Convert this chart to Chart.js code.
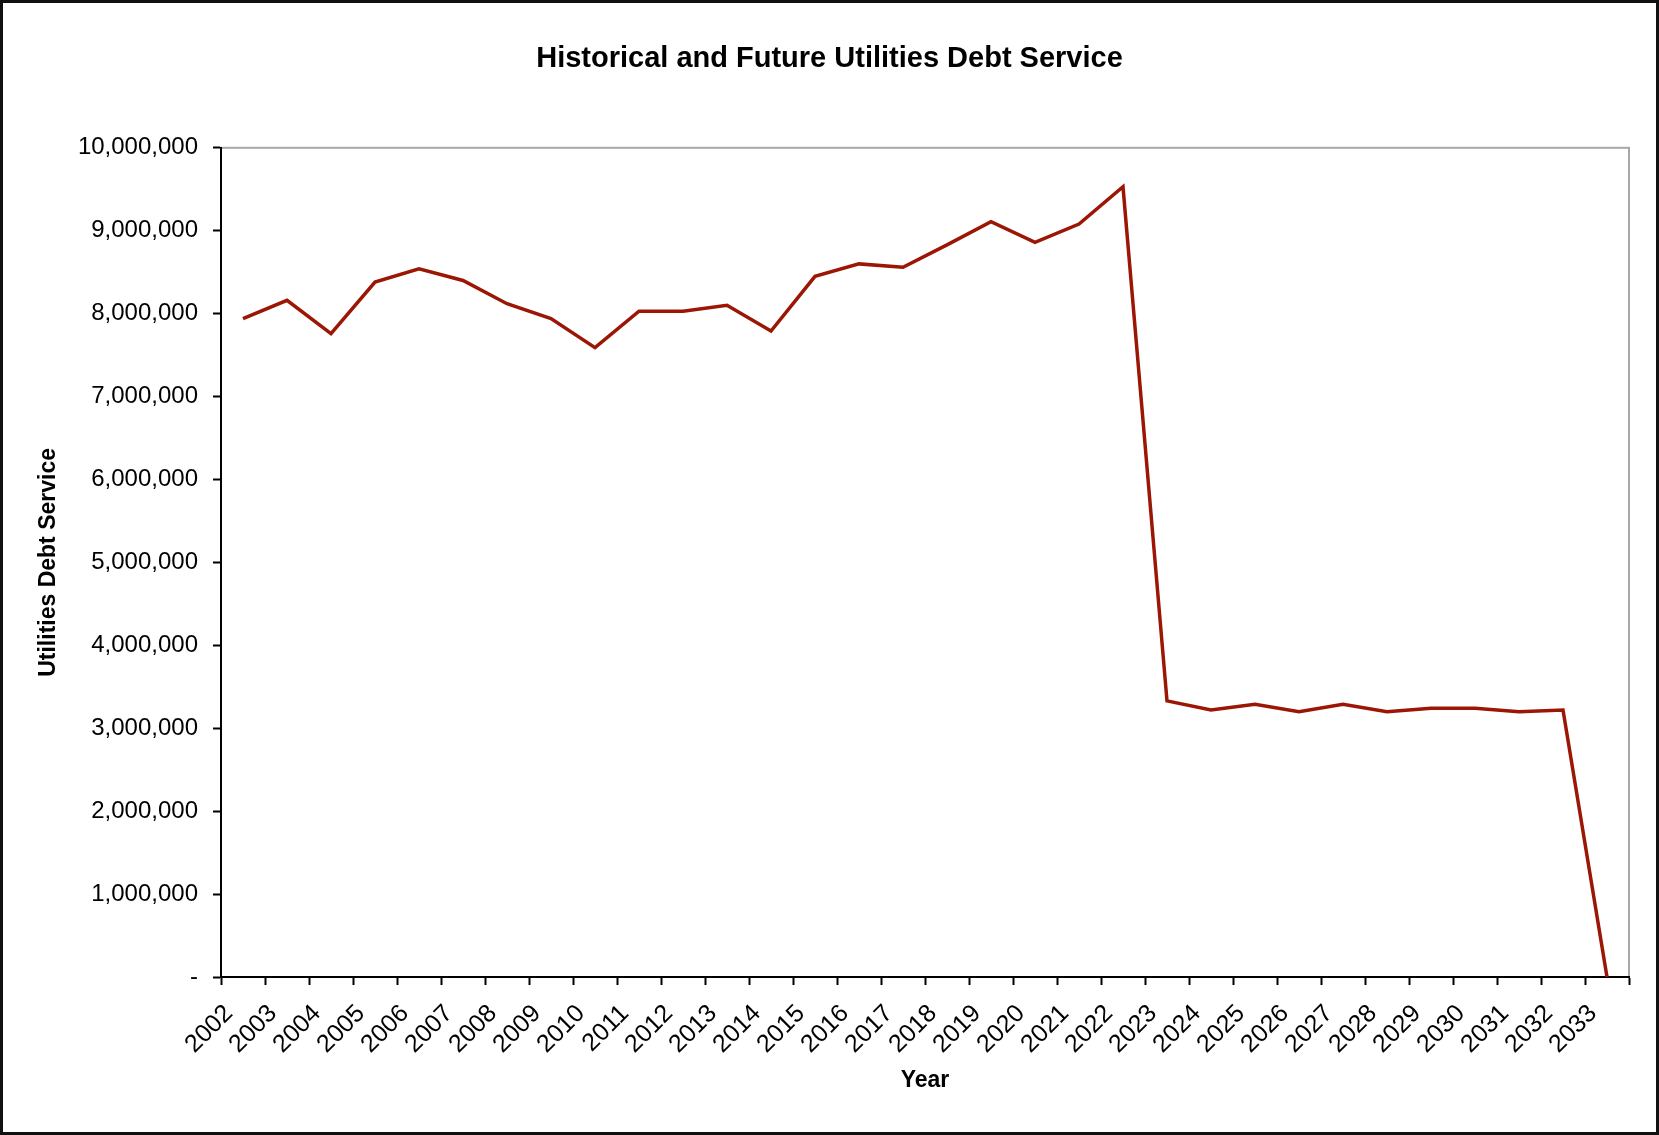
<!DOCTYPE html>
<html>
<head>
<meta charset="utf-8">
<title>Historical and Future Utilities Debt Service</title>
<script src="https://cdn.jsdelivr.net/npm/chart.js@4/dist/chart.umd.min.js"></script>
<style>
  html, body { margin: 0; padding: 0; background: #fff; }
  #frame {
    width: 1659px; height: 1135px; box-sizing: border-box;
    border: 3px solid #111; background: #fff;
  }
  #chart { display: block; }
</style>
</head>
<body>
<div id="frame"><canvas id="chart" width="1653" height="1129"></canvas></div>
<script>
// years on the category axis
var years = ['2002', '2003', '2004', '2005', '2006', '2007', '2008', '2009', '2010', '2011',
             '2012', '2013', '2014', '2015', '2016', '2017', '2018', '2019', '2020', '2021',
             '2022', '2023', '2024', '2025', '2026', '2027', '2028', '2029', '2030', '2031',
             '2032', '2033'];
// debt service
var debtService = [7940000, 8160000, 7760000, 8380000, 8540000, 8400000, 8120000, 7940000, 7590000, 8030000,
                   8030000, 8100000, 7790000, 8450000, 8600000, 8560000, 8830000, 9110000, 8860000, 9080000,
                   9530000, 3330000, 3220000, 3290000, 3200000, 3290000, 3200000, 3240000, 3240000, 3200000,
                   3220000, 0];
var yMin = 0, yMax = 10000000, yStep = 1000000;

var fontFamily = '"Liberation Sans", Arial, sans-serif';

// grey box round the plot area (top/right edges show, axes drawn over it)
var plotBorder = {
    id: 'plotBorder',
    beforeDraw: function (chart) {
        var a = chart.chartArea, ctx = chart.ctx;
        ctx.save();
        ctx.strokeStyle = '#a8a8a8';
        ctx.lineWidth = 2;
        ctx.strokeRect(a.left, a.top, a.right - a.left, a.bottom - a.top);
        ctx.restore();
    }
};

var ctx = document.getElementById('chart');
var myChart = new Chart(ctx, {
    type: 'line',
    data: {
        labels: years,
        datasets: [{
            label: 'Utilities Debt Service',
            data: debtService,
            borderColor: 'rgb(155, 22, 4)',
            backgroundColor: 'rgb(155, 22, 4)',
            borderWidth: 3.5,
            pointRadius: 0,
            tension: 0,
            fill: false
        }]
    },
    plugins: [plotBorder],
    options: {
        responsive: false,
        animation: false,
        // same padding both sides so the title sits in the middle of the page
        layout: { padding: { top: 0, right: 27, bottom: 0, left: 27 } },
        plugins: {
            legend: { display: false },
            tooltip: { enabled: false },
            title: {
                display: true,
                text: 'Historical and Future Utilities Debt Service',
                color: '#000',
                font: { family: fontFamily, size: 29, weight: 'bold' },
                padding: { top: 39, bottom: 71 }
            }
        },
        scales: {
            x: {
                type: 'category',
                offset: true,
                grid: {
                    offset: true,
                    drawOnChartArea: false,
                    drawTicks: true,
                    tickLength: 8,
                    tickWidth: 2,
                    tickColor: '#000'
                },
                border: { display: true, color: '#000', width: 2 },
                ticks: {
                    autoSkip: false,
                    minRotation: 45,
                    maxRotation: 45,
                    padding: 14,
                    labelOffset: -14,
                    color: '#000',
                    font: { family: fontFamily, size: 25 }
                },
                title: {
                    display: true,
                    text: 'Year',
                    color: '#000',
                    font: { family: fontFamily, size: 23, weight: 'bold' },
                    padding: { top: 0, bottom: 38 }
                },
                afterFit: function (scale) { scale.height = 155; }
            },
            y: {
                min: yMin,
                max: yMax,
                grid: {
                    drawOnChartArea: false,
                    drawTicks: true,
                    tickLength: 8,
                    tickWidth: 2,
                    tickColor: '#000'
                },
                border: { display: true, color: '#000', width: 2 },
                ticks: {
                    stepSize: yStep,
                    padding: 15,
                    color: '#000',
                    font: { family: fontFamily, size: 24 },
                    callback: function (v) { return v === 0 ? '-' : v.toLocaleString('en-US'); }
                },
                title: {
                    display: true,
                    text: 'Utilities Debt Service',
                    color: '#000',
                    font: { family: fontFamily, size: 23, weight: 'bold' },
                    padding: { top: 5, bottom: 0 }
                },
                afterFit: function (scale) { scale.width = 191; }
            }
        }
    }
});
</script>
</body>
</html>
